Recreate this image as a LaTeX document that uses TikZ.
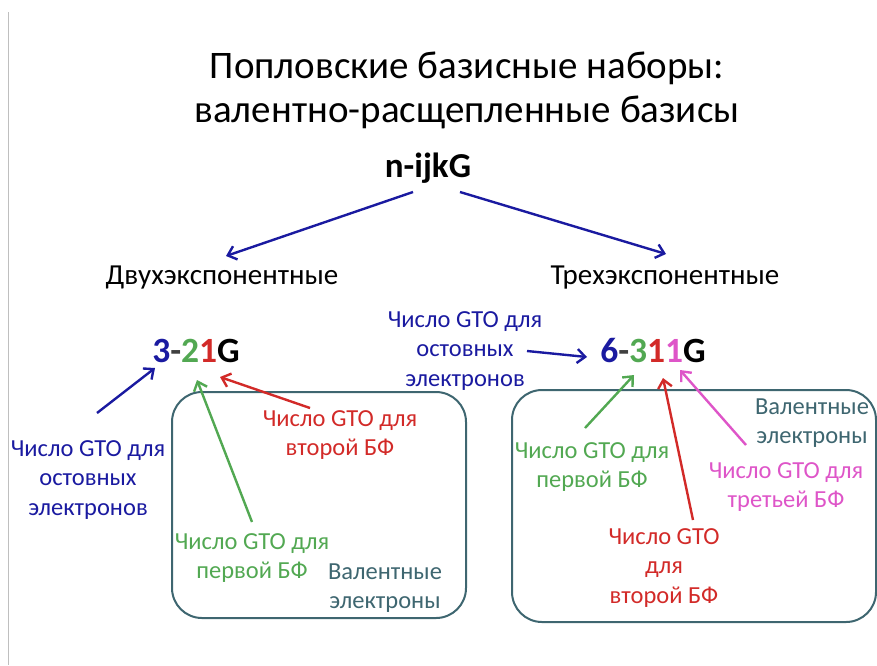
\documentclass[tikz,border=0pt]{standalone}
\usepackage{fontspec}
\setmainfont{Carlito}
\usetikzlibrary{arrows.meta}

\definecolor{coreblue}{HTML}{1A1AA0}
\definecolor{firstgreen}{HTML}{52A852}
\definecolor{secondred}{HTML}{D22A28}
\definecolor{thirdpink}{HTML}{DE55C8}
\definecolor{valteal}{HTML}{3E6670}

\tikzset{
  lbl/.style={align=center, inner sep=0pt, font=\fontsize{24.5}{29.5}\selectfont},
  ptr/.style={line width=2.4pt, -{Straight Barb[length=8pt, width=14pt]}},
  valbox/.style={draw=valteal, line width=2pt, rounded corners=30pt}
}

\begin{document}
\begin{tikzpicture}[x=1pt, y=-1pt]
\useasboundingbox (0,0) rectangle (877,665);
\draw [black!25, line width=0.8pt] (8,12) -- (8,665);

% title
\node (title) at (467, 90) [align=center, inner sep=0pt,
	font=\fontsize{39}{44}\selectfont]
	{Попловские базисные наборы:\\валентно-расщепленные базисы};
\node (gen) at (428, 168) [inner sep=0pt, font=\fontsize{35}{40}\selectfont\bfseries] {n-ijkG};

\node (dz) at (222, 278) [inner sep=0pt, font=\fontsize{29}{34}\selectfont] {Двухэкспонентные};
\node (tz) at (665, 278) [inner sep=0pt, font=\fontsize{29}{34}\selectfont] {Трехэкспонентные};

\draw [ptr, coreblue] (413,192) -- (226,256);
\draw [ptr, coreblue] (460,192) -- (666,254);

% valence boxes
\draw [valbox] (172,392) rectangle (466,618);
\draw [valbox] (512,390) rectangle (876,622);

% 3-21G
\node (dzname) at (196, 351) [inner sep=0pt, font=\fontsize{35.5}{40}\selectfont\bfseries]
	{\textcolor{coreblue}{3}\textcolor{black!75}{-}\textcolor{firstgreen}{2}\textcolor{secondred}{1}G};
\coordinate (dzn) at (155,368);
\coordinate (dzi) at (197,380);
\coordinate (dzj) at (220,377);

\node (dzcore) at (88, 480) [lbl, text=coreblue] {Число GTO для\\остовных\\электронов};
\node (dzsecond) at (340, 435) [lbl, text=secondred] {Число GTO для\\второй БФ};
\node (dzfirst) at (252, 558) [lbl, text=firstgreen] {Число GTO для\\первой БФ};
\node (dzval) at (385, 588) [lbl, text=valteal] {Валентные\\электроны};

\draw [ptr, coreblue] (97,413) -- (dzn);
\draw [ptr, secondred] (310,408) -- (dzj);
\draw [ptr, firstgreen] (252,522) -- (dzi);

% 6-311G
\node (tzname) at (653, 351) [inner sep=0pt, font=\fontsize{35.5}{40}\selectfont\bfseries]
	{\textcolor{coreblue}{6}\textcolor{black!75}{-}\textcolor{firstgreen}{3}\textcolor{secondred}{1}\textcolor{thirdpink}{1}G};
\coordinate (tzn) at (587,357);
\coordinate (tzi) at (634,375);
\coordinate (tzj) at (663,378);
\coordinate (tzk) at (680,370);

\node (tzcore) at (465, 351) [lbl, text=coreblue] {Число GTO для\\остовных\\электронов};
\node (tzfirst) at (592, 467) [lbl, text=firstgreen] {Число GTO для\\первой БФ};
\node (tzsecond) at (664, 568) [lbl, text=secondred] {Число GTO\\для\\второй БФ};
\node (tzval) at (812, 423) [lbl, text=valteal] {Валентные\\электроны};
\node (tzthird) at (786, 487) [lbl, text=thirdpink] {Число GTO для\\третьей БФ};

\draw [ptr, coreblue] (527,351) -- (tzn);
\draw [ptr, firstgreen] (585,428) -- (tzi);
\draw [ptr, secondred] (693,520) -- (tzj);
\draw [ptr, thirdpink] (746,445) -- (tzk);
\end{tikzpicture}
\end{document}
